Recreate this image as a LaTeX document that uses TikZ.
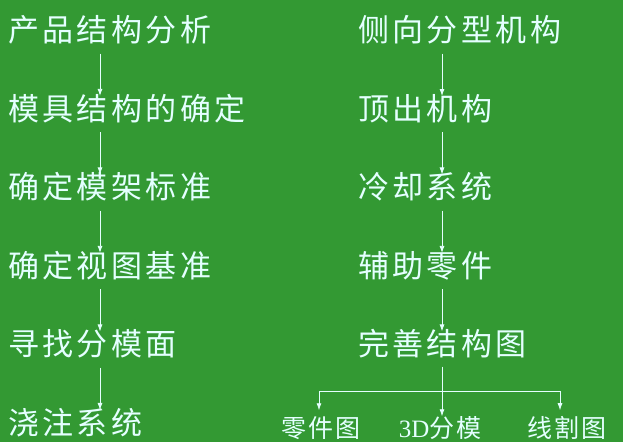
\documentclass[tikz,border=0pt]{standalone}
\usepackage{fontspec}
\usepackage{xcolor}
\usepackage{tikz}
\usetikzlibrary{calc, arrows.meta, positioning, backgrounds}
\newfontfamily\cjk[LetterSpace=11]{Noto Sans CJK SC}
\newfontfamily\cjksmall[LetterSpace=7]{Noto Sans CJK SC}
\newfontfamily\latinserif{Liberation Serif}
\definecolor{tafel}{RGB}{51,153,51}
\definecolor{kreide}{RGB}{228,255,255}
\tikzset{
 schritt/.style={anchor=west, inner sep=0pt, text=kreide, font=\cjk\fontsize{31}{31}\selectfont},
 ergebnis/.style={inner sep=0pt, text=kreide, font=\cjksmall\fontsize{25}{25}\selectfont},
 pfeil/.style={draw=kreide, line width=0.8pt, -{Latex[length=7pt,width=5pt]}, shorten <=9pt, shorten >=-2pt},
 linie/.style={draw=kreide, line width=0.8pt}
}
\begin{document}
\begin{tikzpicture}[x=1pt, y=-1pt]
\path[fill=tafel] (0,0) rectangle (623,442);
\useasboundingbox (0,0) rectangle (623,442);
\coordinate (lx) at (100,0);
\coordinate (rx) at (442,0);
% linke Spalte
\node[schritt](l1) at (8,30){产品结构分析};
\node[schritt, below=78.5pt of l1.west, anchor=west](l2){模具结构的确定};
\node[schritt, below=78.5pt of l2.west, anchor=west](l3){确定模架标准};
\node[schritt, below=78.5pt of l3.west, anchor=west](l4){确定视图基准};
\node[schritt, below=78.5pt of l4.west, anchor=west](l5){寻找分模面};
\node[schritt, below=78.5pt of l5.west, anchor=west](l6){浇注系统};
% rechte Spalte
\node[schritt](r1) at (358,30){侧向分型机构};
\node[schritt, below=78.5pt of r1.west, anchor=west](r2){顶出机构};
\node[schritt, below=78.5pt of r2.west, anchor=west](r3){冷却系统};
\node[schritt, below=78.5pt of r3.west, anchor=west](r4){辅助零件};
\node[schritt, below=78.5pt of r4.west, anchor=west](r5){完善结构图};
% unten
\node[ergebnis](b1) at (321,428){零件图};
\node[ergebnis](b2) at (440,428){{\latinserif 3D}分模};
\node[ergebnis](b3) at (567,428){线割图};
\coordinate (gabelL) at (319,391);
\coordinate (gabelR) at (560,391);
\foreach \a/\b in {l1/l2, l2/l3, l3/l4, l4/l5, l5/l6}
 \path[pfeil] (\a.south -| lx) -- (\b.north -| lx);
\foreach \a/\b in {r1/r2, r2/r3, r3/r4, r4/r5}
 \path[pfeil] (\a.south -| rx) -- (\b.north -| rx);
\path[pfeil, shorten <=8pt, shorten >=0pt] (r5.south -| rx) -- (b2.north -| rx);
\path[linie] (gabelL) -- (gabelR);
\path[pfeil, shorten <=0pt, shorten >=6pt] (gabelL) -- (gabelL |- b1.north);
\path[pfeil, shorten <=0pt, shorten >=6pt] (gabelR) -- (gabelR |- b3.north);
\end{tikzpicture}
\end{document}
